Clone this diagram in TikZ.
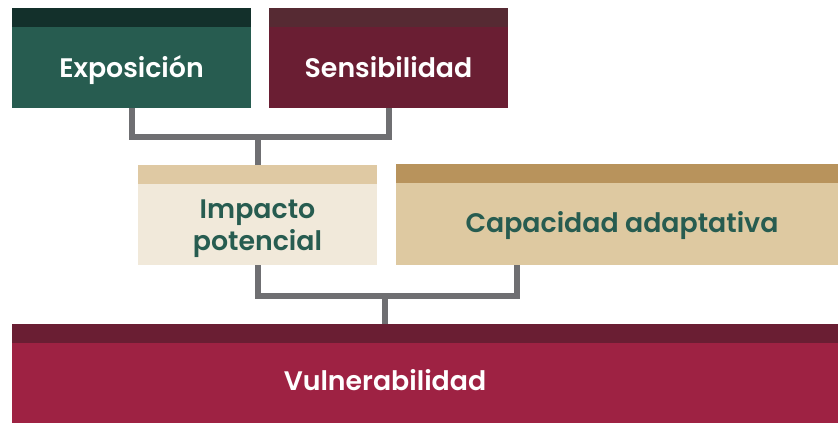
\documentclass[tikz,border=0pt]{standalone}
\usepackage{fontspec}
\newfontfamily\hd{Poppins SemiBold}
\usetikzlibrary{calc}
\definecolor{gDark}{HTML}{13302B}
\definecolor{gMain}{HTML}{275C50}
\definecolor{rBand}{HTML}{562A33}
\definecolor{rMain}{HTML}{6A1E33}
\definecolor{iBand}{HTML}{DFC9A3}
\definecolor{iMain}{HTML}{F1E9DA}
\definecolor{cBand}{HTML}{B8935C}
\definecolor{cMain}{HTML}{DEC9A1}
\definecolor{vBand}{HTML}{6A1E33}
\definecolor{vMain}{HTML}{9E2243}
\definecolor{txtG}{HTML}{275C50}
\definecolor{conng}{HTML}{6F6F72}
\tikzset{
  box/.style={rectangle, inner sep=0pt, outer sep=0pt, anchor=north west, draw=none},
  band/.style={path picture={\fill[#1] (path picture bounding box.north west) rectangle ([yshift=-18.5pt]path picture bounding box.north east);}},
  lbl/.style={font=\hd\fontsize{26.8}{32}\selectfont, align=center, anchor=base, inner sep=0pt},
  conn/.style={draw=conng, line width=6pt, line join=miter}
}
\begin{document}
\begin{tikzpicture}[x=1pt,y=-1pt]
\useasboundingbox (0,0) rectangle (838,423);
% boxes
\node[box, fill=gMain, band=gDark, minimum width=239pt, minimum height=100pt] (exp) at (12,8) {};
\node[box, fill=rMain, band=rBand, minimum width=239pt, minimum height=100pt] (sen) at (269,8) {};
\node[box, fill=iMain, band=iBand, minimum width=239pt, minimum height=100pt] (imp) at (138,165) {};
\node[box, fill=cMain, band=cBand, minimum width=442pt, minimum height=101pt] (cap) at (396,164) {};
\node[box, fill=vMain, band=vBand, minimum width=826pt, minimum height=99pt] (vul) at (12,324) {};
% connectors
\coordinate (j1) at ($(exp.south)+(0,29)$);
\draw[conn] (exp.south) -- (j1) -| (sen.south);
\draw[conn] (imp.north) -- (imp.north |- j1);
\coordinate (capc) at ([xshift=-100pt]cap.south);
\coordinate (j2) at ($(imp.south)+(0,31)$);
\draw[conn] (imp.south) -- (j2) -| (capc);
\coordinate (vulc) at ([xshift=-40pt]vul.north);
\draw[conn] (vulc) -- (vulc |- j2);
% labels
\node[lbl, text=white] (texp) at (131.5,77) {Exposición};
\node[lbl, text=white] (tsen) at (388.5,77) {Sensibilidad};
\node[lbl, text=txtG] (timp) at (257.5,250) {Impacto\\potencial};
\node[lbl, text=txtG] (tcap) at (622,232) {Capacidad adaptativa};
\node[lbl, text=white] (tvul) at (385,390) {Vulnerabilidad};
\end{tikzpicture}
\end{document}
